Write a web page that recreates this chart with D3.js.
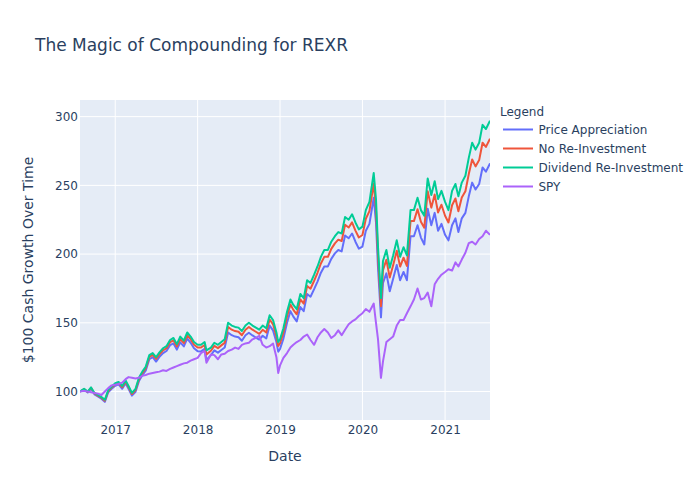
<!DOCTYPE html>
<html>
<head>
<meta charset="utf-8">
<script src="https://cdn.jsdelivr.net/npm/d3@7"></script>
<style>
  html, body { margin: 0; padding: 0; background: #fff; }
  svg { display: block; }
  text { font-family: "DejaVu Sans", sans-serif; fill: #2a3f5f; }
</style>
</head>
<body>
<svg id="chart" width="700" height="500"></svg>
<script>
// ---------------- DATA ----------------
const dates = [
"2016-07-29","2016-08-16","2016-09-01","2016-09-16","2016-10-01","2016-10-16","2016-11-01","2016-11-16","2016-12-01","2016-12-16",
"2017-01-01","2017-01-16","2017-02-01","2017-02-16","2017-03-01","2017-03-16","2017-04-01","2017-04-16","2017-05-01","2017-05-16","2017-06-01","2017-06-16","2017-07-01","2017-07-16","2017-08-01","2017-08-16","2017-09-01","2017-09-16","2017-10-01","2017-10-16","2017-11-01","2017-11-16","2017-12-01","2017-12-16",
"2018-01-01","2018-01-16","2018-02-01","2018-02-09","2018-03-01","2018-03-16","2018-04-01","2018-04-16","2018-05-01","2018-05-16","2018-06-01","2018-06-16","2018-07-01","2018-07-16","2018-08-01","2018-08-16","2018-09-01","2018-09-16","2018-10-01","2018-10-16","2018-11-01","2018-11-16","2018-12-01","2018-12-16","2018-12-24",
"2019-01-01","2019-01-16","2019-02-01","2019-02-16","2019-03-01","2019-03-16","2019-04-01","2019-04-16","2019-05-01","2019-05-16","2019-06-01","2019-06-16","2019-07-01","2019-07-16","2019-08-01","2019-08-16","2019-09-01","2019-09-16","2019-10-01","2019-10-16","2019-11-01","2019-11-16","2019-12-01","2019-12-16",
"2020-01-01","2020-01-16","2020-02-01","2020-02-20","2020-03-01","2020-03-10","2020-03-23","2020-04-01","2020-04-16","2020-05-01","2020-05-16","2020-06-01","2020-06-16","2020-07-01","2020-07-16","2020-08-01","2020-08-16","2020-09-01","2020-09-16","2020-10-01","2020-10-16","2020-11-01","2020-11-16","2020-12-01","2020-12-16",
"2021-01-01","2021-01-16","2021-02-01","2021-02-16","2021-03-01","2021-03-16","2021-04-01","2021-04-16","2021-05-01","2021-05-16","2021-06-01","2021-06-16","2021-07-01","2021-07-19"
];

const priceAppreciation = [
100,101.5,99.3,102.2,98,96.5,94.8,92.5,99.5,102,
104.2,105.2,102,106,102,97,99.8,107.6,111.9,115.2,123.5,125,121.8,125.2,128,129.5,133.7,135,130.5,135.8,132.8,138.5,135.5,131.5,
129.4,129.2,131,123,126.5,130,128.3,130.2,132,143,141,140,139.5,137,141,142.8,140.8,139.3,137.8,140.6,138.6,148,144.5,136,129,
131,138.5,150,158.5,154.5,151,161.5,158.5,171,169,174.5,180,186.5,191,191,196.5,200.5,203,202,213.5,211.5,215,209,204,
205.5,217,222,241,223,190,154,179,186,173,182,192,181,187,181,213,213,221,212,207,233,221,230,217,222,
214,210,221,226,216,226,230,242,252,247,251,263,260,266
];

const noReinvestment = [
100,101.8,99.7,102.7,98.6,97.1,95.5,93.4,100.4,102.9,
105.2,106.2,103.2,107.2,103.2,98.2,101.1,109,113.4,116.8,125.2,126.7,123.7,127.1,130,131.5,135.9,137.3,132.8,138.2,135.2,141.1,138.1,134.1,
132.1,132,133.9,127,129.7,133.2,131.6,133.6,135.5,147,145,144,143.5,141,145,147,145,143.5,142,144.9,142.9,152.4,148.9,140.1,133.1,
135.1,142.9,154.6,163.4,159.4,156.2,167,164,176.8,174.8,180.6,186.4,193.2,198,198,203.8,207.8,210.5,209.5,221.3,219.3,223.1,217.1,212.1,
213.9,225.7,231.3,251.4,232.9,198.7,162.1,188.3,195.9,182.9,191.9,202.4,190.9,197.4,191.4,224,224,232.6,223.6,219.2,245.8,233.8,243.3,230.3,235.9,
227.9,223,235.5,240.5,231.1,241.1,245.7,258.2,268.8,263.8,268.4,281,278,284
];

const dividendReinvestment = [
100,102,100,103,99,97.5,96,94,101,103.5,
106,107,104,108,104,99,102,110,114.5,118,126.5,128,125,128.5,131.5,133,137.5,139,134.5,140,137,143,140,136,
134,134,136,130,132,135.5,134,136,138,150,148,147,146.5,144,148,150,148,146.5,145,148,146,155.5,152,143,136,
138,146,158,167,163,160,171,168,181,179,185,191,198,203,203,209,213,216,215,227,225,229,223,218,
220,232,238,259,240,205,168,195,203,190,199,210,198,205,199,232,232,241,232,228,255,243,253,240,246,
238,232,246,251,242,252,257,270,281,276,281,294,291,297
];

const spy = [
100,100.5,100,99.5,99,98.5,97.5,100,102.5,104.5,
105,105.5,106.5,109,110.5,110,109.5,110,111.5,112,113,113.5,114,114.5,115.5,115,116.5,117.5,118.5,119.5,120.5,121,122.5,123.5,
124.5,128,129.5,121,127,126.5,123.5,127,127.5,129.5,130.5,132,131,134,135,135.5,138,139,140.5,134,132,133,135,125,113.5,
119,124.5,128,132,134,136,137.5,140,141.5,137.5,134,139.5,143,145.5,143,139,141,144.5,141,145,149,151,152.5,155,
157,160,158,164,150,138,110,122,136,138,140,148,152,152,157,162,167,175,167,168,172,162,178,182,185,
187,189,188,194,191,196,201,208,209,207,211,213,217,214
];

const seriesNames = ["Price Appreciation", "No Re-Investment", "Dividend Re-Investment", "SPY"];
const seriesValues = [priceAppreciation, noReinvestment, dividendReinvestment, spy];
const yTickValues = [100, 150, 200, 250, 300];
const xTickYears = ["2017", "2018", "2019", "2020", "2021"];
const titleText = "The Magic of Compounding for REXR";
const xTitle = "Date";
const yTitle = "$100 Cash Growth Over Time";
const legendTitle = "Legend";

// ---------------- STYLE / LAYOUT ----------------
const colors = ["#636efa", "#EF553B", "#00cc96", "#ab63fa"];
const W = 700, H = 500;
const plot = { left: 80, top: 100, right: 490, bottom: 420 };

const parse = d3.timeParse("%Y-%m-%d");
const parsedDates = dates.map(parse);

const x = d3.scaleTime()
  .domain(d3.extent(parsedDates))
  .range([plot.left, plot.right]);
const y = d3.scaleLinear()
  .domain([79.3, 312.1])
  .range([plot.bottom, plot.top]);

const svg = d3.select("#chart");
svg.append("rect").attr("width", W).attr("height", H).attr("fill", "#fff");

// plot background
svg.append("rect")
  .attr("x", plot.left).attr("y", plot.top)
  .attr("width", plot.right - plot.left).attr("height", plot.bottom - plot.top)
  .attr("fill", "#E5ECF6");

const xTicks = xTickYears.map(s => d3.timeParse("%Y")(s));

// grid lines
svg.append("g").selectAll("line").data(xTicks).join("line")
  .attr("x1", d => x(d)).attr("x2", d => x(d))
  .attr("y1", plot.top).attr("y2", plot.bottom)
  .attr("stroke", "#fff").attr("stroke-width", 1);
svg.append("g").selectAll("line").data(yTickValues).join("line")
  .attr("x1", plot.left).attr("x2", plot.right)
  .attr("y1", d => y(d)).attr("y2", d => y(d))
  .attr("stroke", "#fff").attr("stroke-width", 1);

// axes (labels only)
const xAxis = d3.axisBottom(x).tickValues(xTicks).tickFormat(d3.timeFormat("%Y")).tickSize(0).tickPadding(5);
const gx = svg.append("g").attr("transform", `translate(0,${plot.bottom})`).call(xAxis);
gx.select(".domain").remove();
gx.selectAll("text").attr("font-size", 12).attr("font-family", "DejaVu Sans").attr("fill", "#2a3f5f");

const yAxis = d3.axisLeft(y).tickValues(yTickValues).tickSize(0).tickPadding(2);
const gy = svg.append("g").attr("transform", `translate(${plot.left},0)`).call(yAxis);
gy.select(".domain").remove();
gy.selectAll("text").attr("font-size", 12).attr("font-family", "DejaVu Sans").attr("fill", "#2a3f5f");

// clip
svg.append("clipPath").attr("id", "clip")
  .append("rect")
  .attr("x", plot.left).attr("y", plot.top)
  .attr("width", plot.right - plot.left).attr("height", plot.bottom - plot.top);

const line = d3.line()
  .x((d, i) => x(parsedDates[i]))
  .y(d => y(d));

const gLines = svg.append("g").attr("clip-path", "url(#clip)");
seriesValues.forEach((vals, k) => {
  gLines.append("path")
    .datum(vals)
    .attr("d", line)
    .attr("fill", "none")
    .attr("stroke", colors[k])
    .attr("stroke-width", 2)
    .attr("stroke-linejoin", "round");
});

// titles
svg.append("text").attr("x", 35).attr("y", 50.5)
  .attr("font-size", 17).text(titleText);
svg.append("text")
  .attr("x", (plot.left + plot.right) / 2).attr("y", 461)
  .attr("text-anchor", "middle").attr("font-size", 14).text(xTitle);
svg.append("text")
  .attr("transform", `translate(33,${(plot.top + plot.bottom) / 2}) rotate(-90)`)
  .attr("text-anchor", "middle").attr("font-size", 14).text(yTitle);

// legend
const lg = svg.append("g");
lg.append("text").attr("x", 500).attr("y", 116).attr("font-size", 12).text(legendTitle);
seriesNames.forEach((name, i) => {
  const ly = 129.5 + i * 19;
  lg.append("line")
    .attr("x1", 503).attr("x2", 533).attr("y1", ly).attr("y2", ly)
    .attr("stroke", colors[i]).attr("stroke-width", 2);
  lg.append("text").attr("x", 538.5).attr("y", ly + 4.4)
    .attr("font-size", 12).text(name);
});
</script>
</body>
</html>
